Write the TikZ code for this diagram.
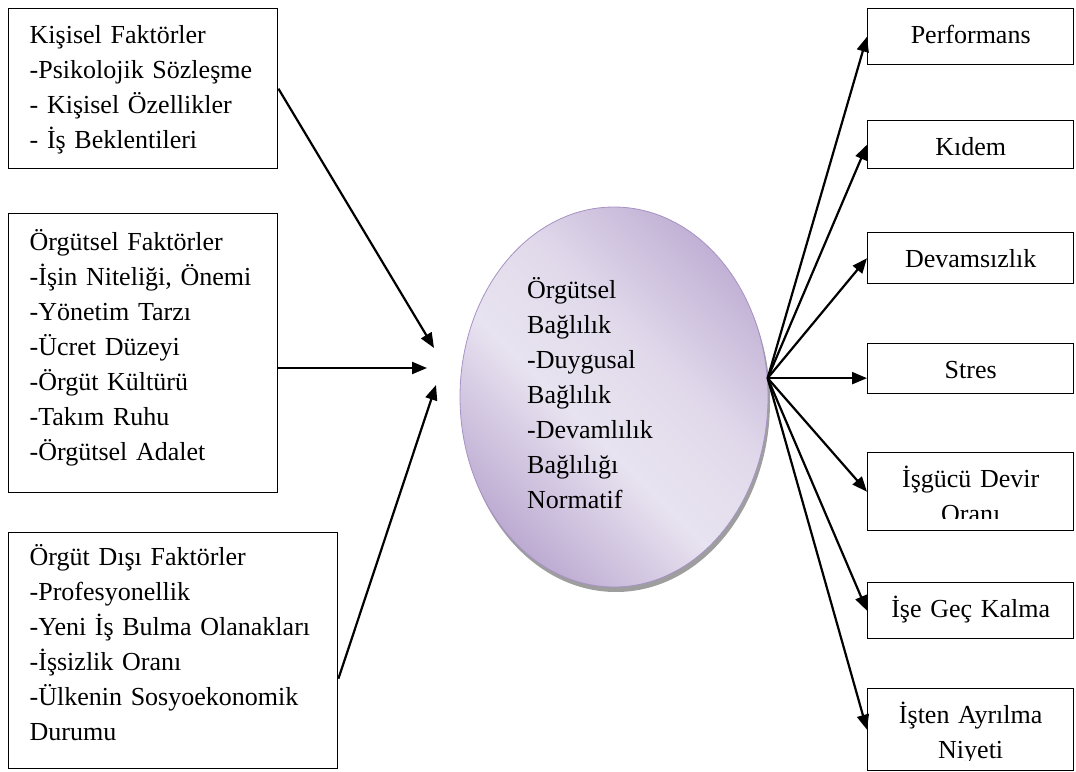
\documentclass[tikz,border=0pt]{standalone}
\usepackage{fontspec}
\setmainfont{Liberation Serif}
\usetikzlibrary{arrows.meta,shapes.geometric,shadows}
\definecolor{bondDark}{RGB}{182,162,205}
\definecolor{bondLight}{RGB}{232,227,240}
\definecolor{bondEdge}{RGB}{166,146,196}
\pgfdeclarehorizontalshading{bondshade}{100bp}{%
  color(0bp)=(bondDark); color(24bp)=(bondDark!90!bondLight); color(44bp)=(bondLight);
  color(58bp)=(bondLight!85!bondDark); color(78bp)=(bondDark!88!bondLight); color(100bp)=(bondDark)}

\begin{document}
\begin{tikzpicture}[x=1pt, y=-1pt]
% Model of organisational commitment, laid out in pixel units (y downwards)
\def\boxlw{1.4pt}
\def\arrowlw{2.2pt}
\tikzset{
  factor/.style={draw, line width=\boxlw, anchor=north west, align=left,
    inner xsep=21pt, inner ysep=0pt, font=\fontsize{26}{35}\selectfont},
  effect/.style={draw, line width=\boxlw, anchor=north west, align=center,
    text width=206pt, inner sep=0pt, text height=35pt,
    font=\fontsize{26}{35}\selectfont},
  effecttext/.style={anchor=base, align=center, text width=200pt, inner sep=0pt,
    font=\fontsize{26}{35}\selectfont},
  link/.style={line width=\arrowlw, -{Triangle[length=15pt,width=12pt]}}
}
\useasboundingbox (0,0) rectangle (1076,771);

% Left: factors
\node[factor, text width=227pt, text height=35pt, text depth=125pt] (personal) at (8,8)
  {Kişisel Faktörler\\-Psikolojik Sözleşme\\- Kişisel Özellikler\\- İş Beklentileri};
\node[factor, text width=227pt, text height=37pt, text depth=242pt] (org) at (8,213)
  {Örgütsel Faktörler\\-İşin Niteliği, Önemi\\-Yönetim Tarzı\\-Ücret Düzeyi\\-Örgüt Kültürü\\-Takım Ruhu\\-Örgütsel Adalet};
\node[factor, text width=287pt, text height=33pt, text depth=203pt] (external) at (8,532)
  {Örgüt Dışı Faktörler\\-Profesyonellik\\-Yeni İş Bulma Olanakları\\-İşsizlik Oranı\\-Ülkenin Sosyoekonomik\\Durumu};

% Centre: commitment
\node[ellipse, minimum width=308pt, minimum height=380pt, inner sep=0pt,
  shading=bondshade, shading angle=45, draw=bondEdge, line width=0.8pt,
  drop shadow={shadow xshift=2pt, shadow yshift=-5pt, fill=black!38, opacity=1}]
  (bond) at (614,397) {};
\node[anchor=base west, align=left, text width=150pt, inner sep=0pt,
  font=\fontsize{26}{35}\selectfont] (bondtext) at (527,298)
  {Örgütsel\\Bağlılık\\-Duygusal\\Bağlılık\\-Devamlılık\\Bağlılığı\\Normatif};

% Right: outcomes
\node[effect, text depth=21pt] (perf) at (867,8) {Performans};
\node[effect, text depth=13pt] (seniority) at (867,120) {Kıdem};
\node[effect, text depth=16pt] (absence) at (867,232) {Devamsızlık};
\node[effect, text depth=15pt] (stress) at (867,343) {Stres};
\node[effect, text depth=43pt] (turnover) at (867,452) {};
\node[effect, text depth=21pt] (late) at (867,582) {İşe Geç Kalma};
\node[effect, text depth=47pt] (quit) at (867,688) {};
% two-line labels, cut off at the bottom as in the source
\begin{scope}
  \clip (turnover.north west) rectangle ([yshift=13pt]turnover.south east);
  \node[effecttext] (turnovertext) at ([yshift=-35pt]turnover.north) {İşgücü Devir\\Oranı};
\end{scope}
\begin{scope}
  \clip (quit.north west) rectangle ([yshift=11pt]quit.south east);
  \node[effecttext] (quittext) at ([yshift=-35pt]quit.north) {İşten Ayrılma\\Niyeti};
\end{scope}

% Arrows into the commitment
\coordinate (inA) at (434,348);
\coordinate (inB) at (427,368);
\coordinate (inC) at (436,385);
\draw[link] (personal.east) -- (inA);
\draw[link] (org.east |- inB) -- (inB);
\draw[link] ([yshift=-28pt]external.east) -- (inC);

% Arrows out to the outcomes
\coordinate (hub) at (bond.7);
\draw[link] (hub) -- (perf.west);
\draw[link] (hub) -- (seniority.west);
\draw[link] (hub) -- (absence.west);
\draw[link] (hub) -- (hub -| stress.west);
\draw[link] (hub) -- (turnover.west);
\draw[link] (hub) -- (late.west);
\draw[link] (hub) -- (quit.west);
\end{tikzpicture}
\end{document}
